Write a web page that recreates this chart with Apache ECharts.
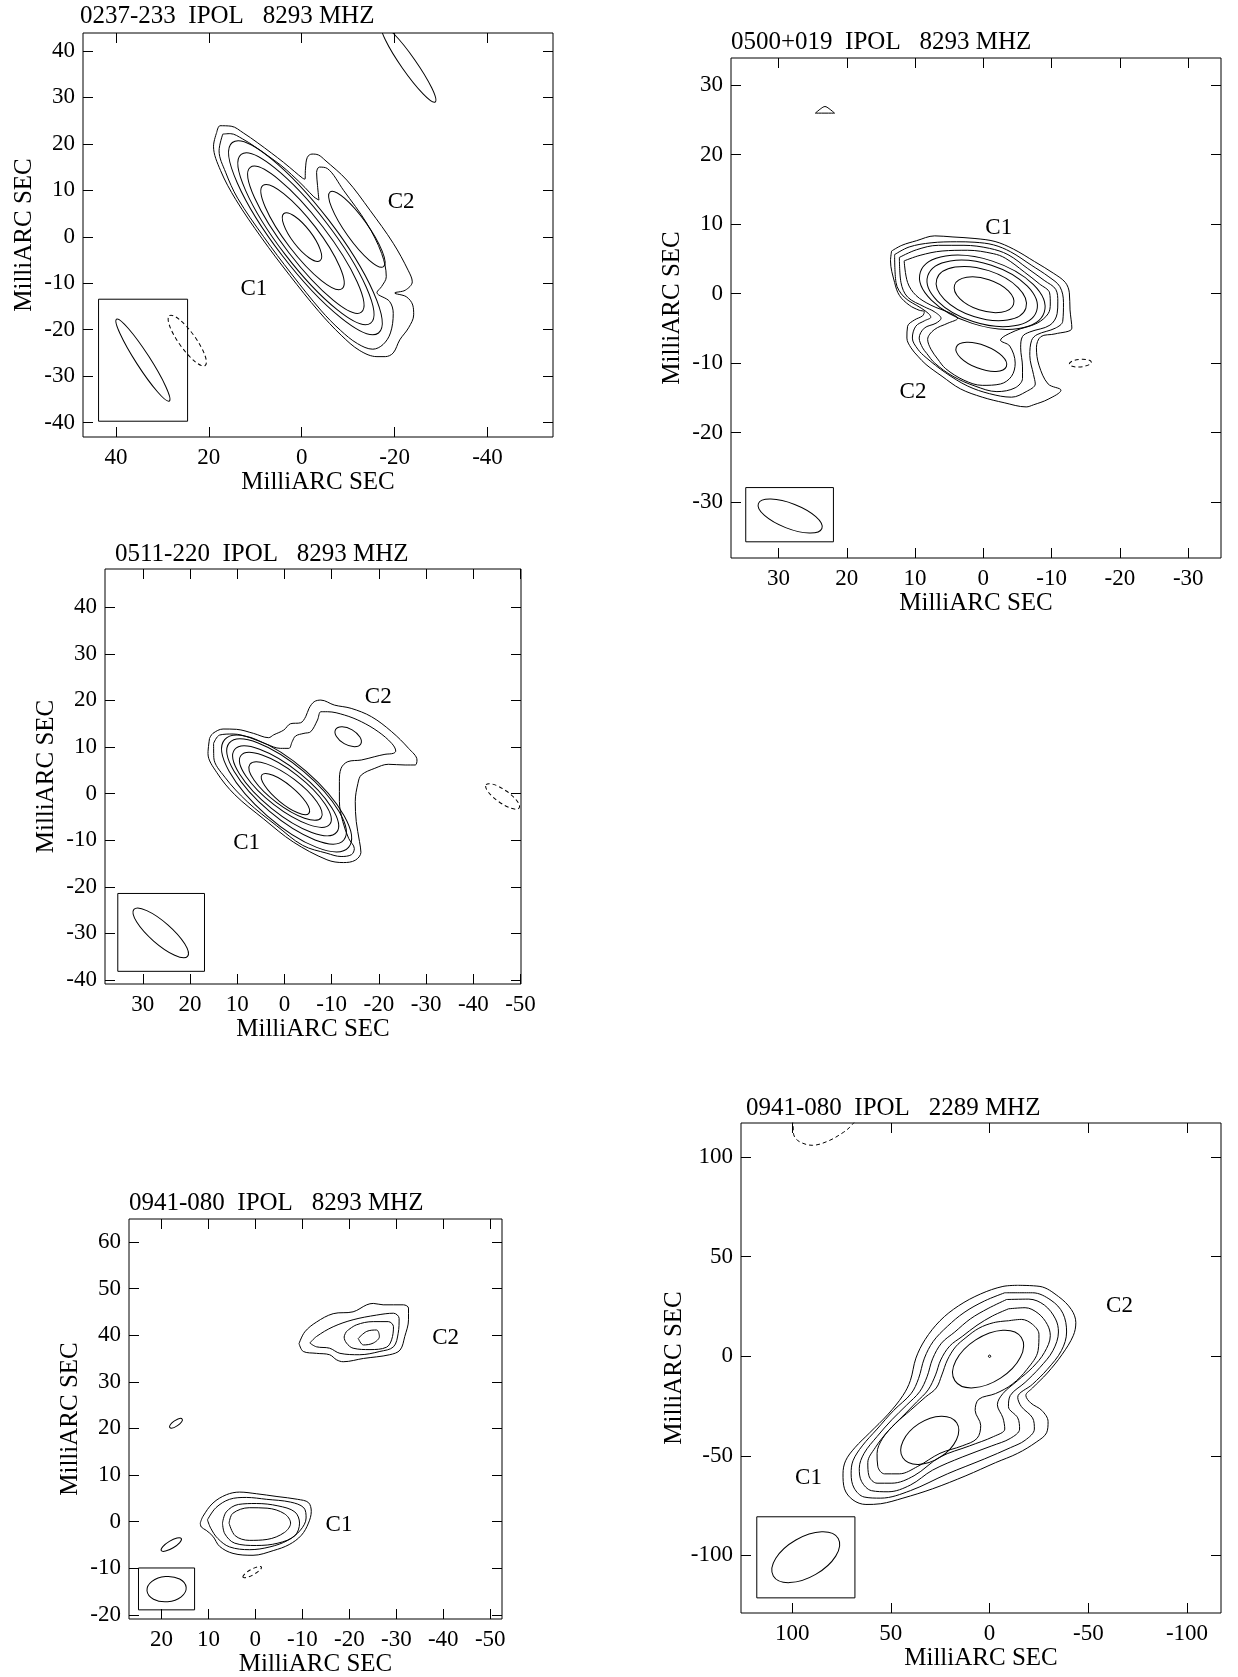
<!DOCTYPE html>
<html>
<head>
<meta charset="utf-8">
<title>VLBI maps</title>
<script src="https://cdn.jsdelivr.net/npm/echarts@6/dist/echarts.min.js"></script>
<style>
html, body { margin: 0; padding: 0; background: #fff; }
#chart { width: 1238px; height: 1677px; }
</style>
</head>
<body>
<div id="chart"></div>
<script>
// all offsets in milliarcsec, x = RA offset (east positive), y = Dec offset
// ellipse rows: [x, y, semi-major, semi-minor, position angle in deg]

// 0237-233, 8293 MHz
const p1XRange = [-54.1, 47.1];
const p1YRange = [-43.1, 43.86];
const p1XTicks = [40, 20, 0, -20, -40];
const p1YTicks = [40, 30, 20, 10, 0, -10, -20, -30, -40];
const p1Outer = [[18.3,22.5],[17.6,23.9],[15.2,23.8],[12.5,22.3],[9.6,20.3],[6.5,18.0],[3.9,16.0],[1.5,14.0],[-0.2,12.6],[-0.7,12.4],[-0.8,14.6],[-1.2,17.1],[-2.2,17.8],[-3.6,17.6],[-5.0,16.5],[-9.7,12.2],[-14.7,5.7],[-19.7,-1.4],[-22.9,-7.2],[-23.8,-9.7],[-22.3,-11.5],[-20.0,-12.1],[-22.5,-12.9],[-23.9,-14.7],[-24.1,-16.8],[-23.0,-19.6],[-21.1,-22.2],[-19.7,-25.0],[-18.0,-25.8],[-16.2,-25.8],[-12.5,-24.5],[-8.5,-21.2],[-3.7,-16.1],[2.6,-8.3],[8.6,-0.3],[14.2,8.0],[17.5,14.3],[19.0,19.5],[18.3,22.5]];
const p1Second = [[17.0,22.1],[15.4,22.2],[12.8,21.1],[10.1,19.4],[7.1,17.3],[4.5,15.4],[2.2,13.4],[-0.7,10.6],[-2.6,8.6],[-3.7,7.9],[-3.4,11.0],[-3.2,13.8],[-3.8,15.0],[-5.5,14.7],[-9.0,10.0],[-14.0,2.9],[-17.2,-3.6],[-18.2,-8.6],[-17.2,-10.7],[-16.2,-12.0],[-18.9,-13.9],[-19.7,-16.5],[-19.1,-20.7],[-17.5,-23.2],[-15.3,-24.2],[-12.0,-23.0],[-8.3,-20.1],[-4.1,-15.8],[2.2,-8.0],[8.2,0.0],[13.8,8.3],[16.4,13.9],[17.8,18.5],[17.0,22.1]];
const p1Rings = [[-0.79,-0.21,25.85,6.3,37.5],[-0.9,-0.44,22.9,5.6,37.5],[-0.88,-0.65,19.65,4.6,37.5],[-0.17,-0.06,14.0,3.5,37.5],[-0.05,-0.07,6.4,2.1,37.5],[-11.87,1.62,9.9,2.4,35.5],[-23.0,37.2,10.0,1.6,35.0]];
const p1Negative = [[24.65,-22.35,6.6,1.8,35.7]];
const p1Beam = [[34.2,-26.55,10.5,1.5,32.8]];
const p1BeamBox = [[43.75,-13.44,24.58,-39.7]];
const p1Labels = [[10.3,-11.3,'C1'],[-21.4,7.5,'C2']];

// 0500+019, 8293 MHz
const p2XRange = [-34.8, 36.96];
const p2YRange = [-38.03, 33.88];
const p2XTicks = [30, 20, 10, 0, -10, -20, -30];
const p2YTicks = [30, 20, 10, 0, -10, -20, -30];
const p2First = [[13.44,6.12],[11.94,6.94],[9.8,7.6],[7.12,8.3],[4.45,8.14],[1.23,7.92],[-1.71,7.49],[-4.4,6.4],[-7.5,4.6],[-10.3,2.9],[-12.0,1.6],[-12.59,0.11],[-12.69,-2.35],[-12.96,-4.97],[-10.5,-5.8],[-8.41,-6.2],[-7.77,-7.8],[-8.14,-10.3],[-9.48,-13.0],[-11.36,-13.9],[-9.48,-15.2],[-7.34,-16.0],[-6.27,-16.3],[-3.05,-15.7],[0.16,-14.9],[3.37,-13.7],[6.05,-11.9],[8.4,-10.2],[9.6,-9.0],[10.6,-7.8],[11.2,-6.4],[11.1,-4.7],[10.1,-3.8],[8.9,-3.2],[8.65,-2.6],[9.4,-2.4],[10.85,-1.67],[12.3,-0.26],[13.0,1.6],[13.6,4.7],[13.44,6.12]];
const p2Second = [[13.0,5.6],[10.87,6.7],[7.66,7.3],[3.91,7.45],[1.23,7.38],[-1.5,7.0],[-4.0,6.0],[-7.0,4.1],[-9.6,2.4],[-11.2,1.0],[-11.73,-1.26],[-11.62,-3.99],[-10.55,-4.97],[-7.87,-5.9],[-7.07,-6.72],[-6.8,-8.9],[-7.34,-11.64],[-7.6,-13.0],[-6.27,-14.1],[-4.12,-14.9],[-0.91,-14.4],[2.3,-13.3],[5.52,-11.4],[8.4,-9.2],[9.6,-8.0],[10.4,-6.4],[9.9,-4.7],[8.6,-3.9],[7.7,-3.4],[8.0,-2.9],[9.1,-2.1],[11.6,-0.5],[12.8,1.6],[13.0,5.6]];
const p2Third = [[12.3,5.2],[9.8,6.3],[6.59,6.94],[2.84,6.94],[-0.91,6.5],[-3.6,5.6],[-6.5,3.6],[-8.9,1.9],[-10.6,0.6],[-10.9,-1.2],[-10.8,-2.9],[-9.75,-4.54],[-6.8,-5.52],[-5.73,-6.17],[-5.46,-7.8],[-5.73,-10.55],[-5.73,-12.2],[-4.66,-13.55],[-1.98,-14.1],[1.23,-13.3],[4.45,-11.9],[7.12,-10.0],[8.3,-8.6],[8.9,-7.8],[9.4,-6.4],[8.65,-4.97],[6.94,-4.26],[6.2,-3.56],[7.2,-2.6],[8.65,-1.9],[11.1,-0.5],[12.07,1.6],[12.3,5.2]];
const p2Fourth = [[11.6,4.7],[9.27,5.5],[6.05,6.12],[2.3,6.23],[-1.45,5.74],[-3.2,5.1],[-6.0,3.1],[-8.2,1.4],[-9.7,0.1],[-9.8,-1.5],[-9.48,-2.9],[-7.87,-4.26],[-4.66,-5.36],[-2.52,-6.72],[-3.86,-7.54],[-4.66,-10.0],[-4.12,-11.9],[-2.52,-13.0],[0.16,-13.2],[2.84,-12.46],[5.52,-10.8],[6.7,-9.4],[7.68,-8.0],[8.16,-6.6],[7.2,-5.2],[5.2,-4.26],[3.77,-3.56],[4.75,-2.85],[7.68,-1.67],[9.87,-0.26],[11.1,1.6],[11.6,4.7]];
const p2Spot = [[24.6,25.95],[23.8,26.6],[23.2,26.9],[22.6,26.6],[21.8,25.95],[24.6,25.95]];
const p2Rings = [[-0.1,-0.17,4.5,2.3,72],[0.3,0.0,6.8,3.5,72],[0.17,0.03,8.3,4.3,72],[0.16,0.19,9.45,4.75,72],[0.3,-9.1,3.9,1.7,69]];
const p2Negative = [[-14.2,-10.0,1.6,0.55,95]];
const p2Beam = [[28.3,-32.0,4.95,1.8,68.6]];
const p2BeamBox = [[34.8,-27.9,21.96,-35.7]];
const p2Labels = [[-2.25,9.4,'C1'],[10.3,-14.1,'C2']];

// 0511-220, 8293 MHz
const p3XRange = [-50.1, 38.0];
const p3YRange = [-40.86, 48.2];
const p3XTicks = [30, 20, 10, 0, -10, -20, -30, -40, -50];
const p3YTicks = [40, 30, 20, 10, 0, -10, -20, -30, -40];
const p3First = [[15.86,11.86],[15.14,12.93],[13.0,13.86],[10.14,13.79],[6.57,12.93],[3.36,12.0],[2.29,12.6],[0.14,13.64],[-1.3,15.0],[-3.43,15.2],[-4.5,16.5],[-5.21,18.3],[-6.29,19.71],[-7.71,20.07],[-10.57,19.0],[-14.14,18.29],[-18.43,16.5],[-22.71,13.29],[-26.29,9.71],[-28.07,7.21],[-27.71,6.14],[-25.57,6.14],[-22.0,6.29],[-19.14,5.43],[-16.29,4.0],[-15.57,2.21],[-15.0,-1.71],[-15.21,-6.0],[-15.9,-10.3],[-16.2,-12.6],[-15.0,-14.3],[-12.5,-14.8],[-9.0,-14.2],[-1.88,-10.39],[4.4,-5.44],[10.5,-0.25],[14.34,4.54],[16.19,8.6],[15.86,11.86]];
const p3Second = [[15.0,10.79],[13.71,12.57],[10.86,12.79],[7.29,12.0],[3.71,10.57],[0.86,9.71],[-0.93,9.71],[-1.64,11.14],[-2.36,12.36],[-4.14,12.93],[-5.57,13.29],[-7.0,15.79],[-7.71,17.57],[-9.14,17.57],[-12.71,16.86],[-16.29,15.43],[-19.86,13.29],[-22.71,10.79],[-23.57,9.14],[-23.07,8.64],[-21.29,8.43],[-19.14,7.93],[-16.29,7.21],[-13.43,6.86],[-12.0,5.43],[-11.64,2.57],[-11.64,-1.71],[-12.36,-6.0],[-13.6,-9.6],[-14.8,-11.8],[-14.2,-13.1],[-12.0,-13.5],[-9.0,-12.8],[-3.87,-11.11],[1.7,-6.86],[7.85,-1.75],[12.6,3.51],[14.96,7.74],[15.0,10.79]];
const p3Rings = [[-0.21,-0.1,6.47,2.0,50.6],[-0.23,0.55,9.5,3.1,53],[-0.2,0.8,11.97,4.0,52.3],[-0.26,0.59,14.0,4.8,51],[-0.45,0.46,16.0,5.6,49.7],[-0.46,0.02,17.5,6.3,49],[-13.5,12.2,3.1,1.7,60]];
const p3Negative = [[-46.2,-0.6,4.3,1.4,55]];
const p3Beam = [[26.2,-29.9,7.6,2.3,48.8]];
const p3BeamBox = [[35.29,-21.43,16.93,-38.14]];
const p3Labels = [[8.0,-10.64,'C1'],[-19.86,20.79,'C2']];

// 0941-080, 8293 MHz
const p4XRange = [-52.5, 26.9];
const p4YRange = [-20.86, 64.9];
const p4XTicks = [20, 10, 0, -10, -20, -30, -40, -50];
const p4YTicks = [60, 50, 40, 30, 20, 10, 0, -10, -20];
const p4CoreFirst = [[11.73,-0.29],[11.16,1.14],[9.03,4.0],[6.18,5.78],[3.34,6.35],[-0.21,6.0],[-4.6,5.4],[-9.0,4.8],[-11.3,4.1],[-11.9,2.2],[-11.3,-0.3],[-9.8,-2.9],[-7.2,-4.9],[-3.8,-6.2],[0.5,-7.2],[4.76,-6.8],[7.6,-5.3],[9.03,-3.14],[10.45,-1.86],[11.51,-1.14],[11.73,-0.29]];
const p4CoreSecond = [[10.2,0.4],[8.4,3.0],[5.5,4.8],[1.9,5.2],[-2.4,4.8],[-7.5,4.2],[-10.3,3.0],[-10.8,0.8],[-9.6,-1.8],[-6.9,-4.0],[-3.1,-5.4],[1.2,-6.0],[5.5,-5.4],[8.0,-3.6],[9.5,-1.4],[10.2,0.4]];
const p4CoreThird = [[7.0,-0.3],[6.2,2.1],[3.6,3.7],[-0.2,3.9],[-4.8,3.4],[-8.4,2.1],[-9.4,-0.3],[-8.4,-3.0],[-4.8,-4.6],[-0.2,-5.1],[4.4,-4.6],[6.5,-2.6],[7.0,-0.3]];
const p4CoreFourth = [[5.6,-0.3],[4.8,1.8],[1.3,3.0],[-2.5,2.9],[-6.2,1.7],[-7.5,-0.3],[-6.2,-2.3],[-2.5,-3.8],[1.3,-4.0],[4.3,-3.0],[5.6,-0.3]];
const p4JetFirst = [[-9.3,38.2],[-10.52,40.7],[-13.0,42.8],[-16.56,44.6],[-20.8,45.0],[-23.7,46.5],[-25.1,46.8],[-27.2,46.5],[-31.5,46.5],[-32.6,45.8],[-32.6,43.3],[-31.8,39.7],[-30.8,36.8],[-28.6,35.8],[-23.0,35.0],[-18.7,34.3],[-17.3,34.7],[-15.8,35.8],[-13.0,36.1],[-10.2,36.5],[-9.3,38.2]];
const p4JetSecond = [[-11.6,38.3],[-13.0,39.7],[-16.56,41.8],[-20.8,43.3],[-25.8,44.3],[-29.4,44.7],[-30.6,43.6],[-30.4,40.4],[-29.4,37.5],[-26.5,36.5],[-22.2,35.8],[-18.0,36.1],[-15.8,37.2],[-13.0,37.5],[-11.6,38.3]];
const p4JetThird = [[-19.4,40.8],[-21.5,42.2],[-25.1,42.9],[-28.3,42.9],[-29.4,41.8],[-29.0,39.0],[-27.9,37.4],[-24.4,36.9],[-20.8,37.2],[-19.4,38.3],[-18.9,39.6],[-19.4,40.8]];
const p4JetFourth = [[-21.9,39.3],[-23.7,40.8],[-25.8,41.1],[-26.4,39.7],[-25.1,38.3],[-23.0,37.9],[-21.9,39.3]];
const p4Rings = [[16.9,21.1,1.6,0.6,123],[17.9,-4.9,2.5,0.8,121]];
const p4Negative = [[0.67,-10.8,2.25,0.6,119]];
const p4Beam = [[18.9,-14.45,4.2,2.7,95]];
const p4BeamBox = [[24.88,-9.92,12.94,-18.9]];
const p4Labels = [[-17.8,-0.8,'C1'],[-40.5,39.3,'C2']];

// 0941-080, 2289 MHz
const p5XRange = [-117.2, 125.9];
const p5YRange = [-128.9, 117.1];
const p5XTicks = [100, 50, 0, -50, -100];
const p5YTicks = [100, 50, 0, -50, -100];
const p5First = [[-14.25,35.61],[-25.5,35.05],[-34.87,29.99],[-41.43,23.43],[-43.68,16.87],[-42.37,10.31],[-36.75,0.94],[-29.25,-8.43],[-21.75,-15.93],[-18.37,-19.68],[-20.81,-23.43],[-26.43,-27.18],[-29.62,-32.8],[-28.87,-38.43],[-23.62,-43.11],[-14.25,-48.73],[-3.0,-53.42],[12.0,-59.98],[28.87,-66.54],[43.87,-71.23],[55.12,-74.04],[62.62,-74.41],[69.18,-72.16],[73.49,-66.54],[74.24,-59.04],[72.93,-52.48],[68.24,-45.92],[60.74,-38.43],[51.37,-29.05],[43.87,-19.68],[40.12,-12.18],[37.31,-0.94],[32.62,8.43],[25.12,17.81],[15.75,25.3],[4.5,31.3],[-6.75,35.05],[-14.25,35.61]];
const p5Second = [[-7.69,31.87],[-21.75,31.87],[-31.12,28.12],[-37.12,21.56],[-39.0,12.18],[-36.37,2.81],[-29.25,-6.56],[-21.75,-14.06],[-14.25,-20.62],[-16.12,-25.3],[-21.75,-30.93],[-22.68,-36.55],[-18.0,-42.17],[-10.5,-45.92],[2.62,-51.55],[21.37,-59.04],[40.12,-67.48],[55.12,-71.23],[63.55,-70.66],[68.62,-66.17],[70.12,-59.04],[69.18,-52.48],[64.49,-44.99],[56.99,-36.55],[48.56,-27.18],[39.75,-18.74],[36.0,-11.25],[33.0,-0.94],[28.5,7.5],[21.37,15.0],[12.94,21.93],[2.62,27.74],[-7.69,31.87]];
const p5Third = [[-8.62,28.49],[-19.87,28.68],[-27.75,25.68],[-33.37,18.74],[-34.87,12.18],[-32.06,2.81],[-25.5,-5.62],[-18.0,-13.12],[-10.5,-19.68],[-9.56,-25.3],[-14.25,-30.93],[-15.19,-36.55],[-10.5,-41.24],[-1.12,-44.99],[13.87,-50.61],[28.87,-57.17],[40.12,-64.67],[51.37,-68.04],[59.81,-67.48],[64.87,-62.79],[65.99,-56.23],[63.55,-48.73],[56.99,-40.3],[49.49,-31.87],[42.0,-24.5],[35.43,-17.81],[31.68,-10.31],[28.87,-1.31],[24.37,6.56],[17.62,12.18],[9.75,18.74],[0.75,23.99],[-8.62,28.49]];
const p5Fourth = [[-9.56,23.8],[-18.0,24.37],[-24.56,21.56],[-29.25,15.93],[-30.75,10.31],[-27.75,1.87],[-21.75,-5.62],[-14.25,-12.18],[-6.75,-18.74],[-3.94,-24.37],[-6.75,-30.93],[-7.69,-36.55],[-2.06,-40.3],[10.12,-44.99],[25.12,-50.61],[38.25,-59.98],[49.49,-63.73],[56.99,-63.73],[61.12,-59.98],[61.68,-53.42],[57.93,-45.92],[51.37,-37.49],[43.87,-29.99],[37.0,-23.0],[31.12,-16.87],[27.37,-9.37],[24.75,-1.87],[20.25,5.06],[13.87,9.93],[6.37,15.56],[-1.5,20.24],[-9.56,23.8]];
const p5Fifth = [[-9.56,17.81],[-16.12,18.5],[-21.75,16.0],[-25.0,11.0],[-24.56,2.81],[-18.94,-6.56],[-11.44,-14.06],[-3.0,-18.74],[5.44,-21.56],[7.31,-27.18],[4.5,-34.68],[6.37,-41.24],[13.87,-44.99],[25.12,-48.73],[36.37,-55.29],[45.74,-59.04],[53.24,-59.04],[56.62,-55.29],[56.99,-48.73],[54.18,-41.24],[47.62,-33.74],[40.12,-27.18],[32.5,-20.5],[27.0,-15.93],[24.18,-9.37],[21.37,-1.87],[17.25,4.69],[12.0,9.37],[5.44,14.06],[-2.06,16.87],[-9.56,17.81]];
const p5NegativeArc = [[100.0,119.0],[99.55,116.2],[99.2,111.2],[96.4,107.8],[89.8,105.9],[81.4,108.2],[73.9,112.5],[71.1,114.7],[68.5,117.5]];
const p5Rings = [[0.75,-1.4,20,11.5,-57],[30.3,-42.2,16.2,10,-57],[0,0,0.6,0.6,0]];
const p5Beam = [[93.1,-100.9,18.9,10,-60]];
const p5BeamBox = [[117.9,-80.6,68.2,-121.3]];
const p5Labels = [[91.7,-60.9,'C1'],[-65.8,25.3,'C2']];

const FONT = 'Liberation Serif';

const panels = [
    { title: '0237-233  IPOL   8293 MHZ', titleAt: [80, 4], box: [83, 33, 553, 437],
      xRange: p1XRange, yRange: p1YRange, xTicks: p1XTicks, yTicks: p1YTicks,
      lines: [p1Outer, p1Second], dashLines: [], rings: p1Rings, dashRings: p1Negative,
      beam: p1Beam, beamBox: p1BeamBox, labels: p1Labels },
    { title: '0500+019  IPOL   8293 MHZ', titleAt: [731, 30], box: [731, 58, 1221, 558],
      xRange: p2XRange, yRange: p2YRange, xTicks: p2XTicks, yTicks: p2YTicks,
      lines: [p2First, p2Second, p2Third, p2Fourth, p2Spot], dashLines: [], rings: p2Rings, dashRings: p2Negative,
      beam: p2Beam, beamBox: p2BeamBox, labels: p2Labels },
    { title: '0511-220  IPOL   8293 MHZ', titleAt: [115, 542], box: [105, 569, 521, 984],
      xRange: p3XRange, yRange: p3YRange, xTicks: p3XTicks, yTicks: p3YTicks,
      lines: [p3First, p3Second], dashLines: [], rings: p3Rings, dashRings: p3Negative,
      beam: p3Beam, beamBox: p3BeamBox, labels: p3Labels },
    { title: '0941-080  IPOL   8293 MHZ', titleAt: [129, 1191], box: [129, 1219, 502, 1619],
      xRange: p4XRange, yRange: p4YRange, xTicks: p4XTicks, yTicks: p4YTicks,
      lines: [p4CoreFirst, p4CoreSecond, p4CoreThird, p4CoreFourth, p4JetFirst, p4JetSecond, p4JetThird, p4JetFourth],
      dashLines: [], rings: p4Rings, dashRings: p4Negative,
      beam: p4Beam, beamBox: p4BeamBox, labels: p4Labels },
    { title: '0941-080  IPOL   2289 MHZ', titleAt: [746, 1096], box: [741, 1123, 1221, 1613],
      xRange: p5XRange, yRange: p5YRange, xTicks: p5XTicks, yTicks: p5YTicks,
      lines: [p5First, p5Second, p5Third, p5Fourth, p5Fifth], dashLines: [p5NegativeArc], rings: p5Rings, dashRings: [],
      beam: p5Beam, beamBox: p5BeamBox, labels: p5Labels }
];

function makeXAxis(i, p, pos) {
    const main = pos === 'bottom';
    return {
        type: 'value', gridIndex: i, position: pos, inverse: true,
        min: p.xRange[0], max: p.xRange[1],
        name: main ? 'MilliARC SEC' : '', nameLocation: 'middle', nameGap: 33,
        nameTextStyle: { color: '#000', fontFamily: FONT, fontSize: 25 },
        axisLine: { show: false, onZero: false },
        splitLine: { show: false },
        axisTick: { show: true, inside: true, length: 10, customValues: p.xTicks, lineStyle: { color: '#000', width: 1 } },
        axisLabel: { show: main, customValues: p.xTicks, margin: 9, color: '#000', fontFamily: FONT, fontSize: 23 }
    };
}

function makeYAxis(i, p, pos) {
    const main = pos === 'left';
    return {
        type: 'value', gridIndex: i, position: pos,
        min: p.yRange[0], max: p.yRange[1],
        name: main ? 'MilliARC SEC' : '', nameLocation: 'middle', nameGap: 46,
        nameTextStyle: { color: '#000', fontFamily: FONT, fontSize: 25 },
        axisLine: { show: false, onZero: false },
        splitLine: { show: false },
        axisTick: { show: true, inside: true, length: 10, customValues: p.yTicks, lineStyle: { color: '#000', width: 1 } },
        axisLabel: { show: main, customValues: p.yTicks, margin: 8, color: '#000', fontFamily: FONT, fontSize: 23 }
    };
}

// ellipse drawn through the axis scales
function ellipseRenderer(dashed) {
    return function (params, api) {
        const c = api.coord([api.value(0), api.value(1)]);
        const s = api.size([1, 1]);
        const k = (Math.abs(s[0]) + Math.abs(s[1])) / 2;
        return {
            type: 'ellipse',
            x: c[0], y: c[1],
            rotation: (api.value(4) - 90) * Math.PI / 180,
            shape: { cx: 0, cy: 0, rx: api.value(2) * k, ry: api.value(3) * k },
            style: { fill: 'none', stroke: '#000', lineWidth: 1, lineDash: dashed ? [4, 3] : null }
        };
    };
}

function boxRenderer(params, api) {
    const a = api.coord([api.value(0), api.value(1)]);
    const b = api.coord([api.value(2), api.value(3)]);
    return {
        type: 'rect',
        shape: { x: Math.min(a[0], b[0]), y: Math.min(a[1], b[1]), width: Math.abs(b[0] - a[0]), height: Math.abs(b[1] - a[1]) },
        style: { fill: 'none', stroke: '#000', lineWidth: 1 }
    };
}

function labelRenderer(labels) {
    return function (params, api) {
        const d = labels[params.dataIndex];
        const c = api.coord([d[0], d[1]]);
        return {
            type: 'text', x: c[0], y: c[1],
            style: { text: d[2], fill: '#000', fontFamily: FONT, fontSize: 23, align: 'center', verticalAlign: 'middle' }
        };
    };
}

const option = { animation: false, backgroundColor: '#fff', title: [], grid: [], xAxis: [], yAxis: [], series: [] };

panels.forEach(function (p, i) {
    const b = p.box;
    option.title.push({
        text: p.title, left: p.titleAt[0], top: p.titleAt[1], padding: 0,
        textStyle: { color: '#000', fontFamily: FONT, fontSize: 25, fontWeight: 'normal' }
    });
    option.grid.push({
        left: b[0], top: b[1], width: b[2] - b[0], height: b[3] - b[1],
        show: true, borderColor: '#000', borderWidth: 1, backgroundColor: 'transparent',
        containLabel: false, outerBoundsMode: 'none'
    });
    option.xAxis.push(makeXAxis(i, p, 'bottom'), makeXAxis(i, p, 'top'));
    option.yAxis.push(makeYAxis(i, p, 'left'), makeYAxis(i, p, 'right'));
    const ax = { xAxisIndex: 2 * i, yAxisIndex: 2 * i };

    p.lines.forEach(function (pts) {
        option.series.push(Object.assign({
            type: 'line', data: pts, smooth: 0.35, symbol: 'none', silent: true,
            lineStyle: { color: '#000', width: 1 }
        }, ax));
    });
    p.dashLines.forEach(function (pts) {
        option.series.push(Object.assign({
            type: 'line', data: pts, smooth: 0.35, symbol: 'none', silent: true,
            lineStyle: { color: '#000', width: 1, type: [4, 3] }
        }, ax));
    });
    option.series.push(Object.assign({ type: 'custom', data: p.rings, clip: true, silent: true, renderItem: ellipseRenderer(false) }, ax));
    option.series.push(Object.assign({ type: 'custom', data: p.dashRings, clip: true, silent: true, renderItem: ellipseRenderer(true) }, ax));
    option.series.push(Object.assign({ type: 'custom', data: p.beam, clip: true, silent: true, renderItem: ellipseRenderer(false) }, ax));
    option.series.push(Object.assign({ type: 'custom', data: p.beamBox, clip: true, silent: true, renderItem: boxRenderer }, ax));
    option.series.push(Object.assign({ type: 'custom', data: p.labels.map(function (d) { return [d[0], d[1]]; }), silent: true, renderItem: labelRenderer(p.labels) }, ax));
});

const myChart = echarts.init(document.getElementById('chart'), null, { renderer: 'canvas' });
myChart.setOption(option);
</script>
</body>
</html>
